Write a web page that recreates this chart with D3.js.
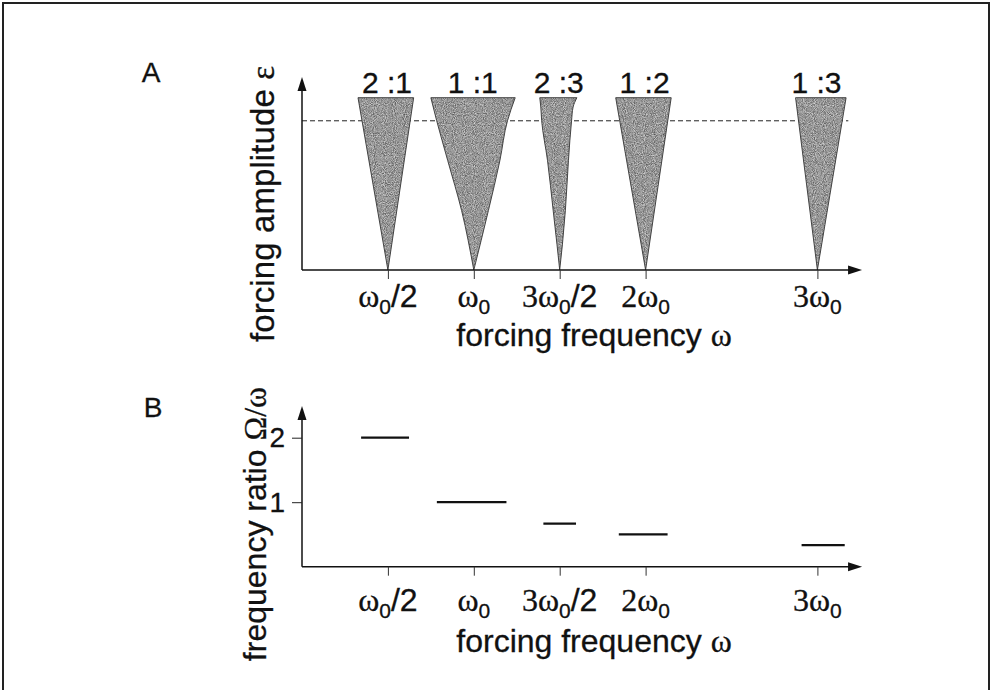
<!DOCTYPE html>
<html>
<head>
<meta charset="utf-8">
<script src="https://cdn.jsdelivr.net/npm/d3@7"></script>
<style>
  body { margin: 0; background: #fff; }
  text { font-family: "Liberation Sans", Arial, sans-serif; fill: #111; stroke: #111; stroke-width: 0.3; }
  .serif { font-family: "Liberation Serif", "DejaVu Serif", serif; }
</style>
</head>
<body>
<svg id="chart" width="993" height="690"></svg>
<script>
// resonance tongues: label, centre frequency (in units of w0)
const ratioLabels = ["2 :1", "1 :1", "2 :3", "1 :2", "1 :3"];
const tongueCenters = [0.5, 1, 1.5, 2, 3];
const tickLabels = ["ω_0/2", "ω_0", "3ω_0/2", "2ω_0", "3ω_0"];

// tongue edges: [amplitude, left offset, right offset]
const tongueEdges = [
  [[0, 0, 0], [1, -0.174, 0.150]],
  [[0, 0, 0], [0.345, -0.071, 0.085], [0.636, -0.152, 0.152], [0.866, -0.216, 0.196], [1, -0.250, 0.241]],
  [[0, 0, 0], [0.15, -0.016, 0.016], [0.345, -0.038, 0.033], [0.636, -0.071, 0.051], [0.866, -0.105, 0.069], [0.946, -0.110, 0.078], [1, -0.116, 0.100]],
  [[0, 0, 0], [1, -0.174, 0.149]],
  [[0, 0, 0], [1, -0.127, 0.167]]
];
const dashedLevel = 0.866;

// panel B: locked frequency ratio plateaus
const freqRatios = [2, 1, 0.667, 0.5, 0.333];
const plateauLeft = [-0.156, -0.215, -0.095, -0.156, -0.092];
const plateauRight = [0.123, 0.190, 0.095, 0.128, 0.159];
const ratioTicks = [1, 2];

const svg = d3.select("#chart");

// frame
svg.append("rect")
  .attr("x", 3).attr("y", 3).attr("width", 986).attr("height", 700)
  .attr("fill", "none").attr("stroke", "#222").attr("stroke-width", 2);

// grain for the shaded tongues
const defs = svg.append("defs");
const f = defs.append("filter").attr("id", "grain")
  .attr("color-interpolation-filters", "sRGB")
  .attr("x", 0).attr("y", 0).attr("width", "100%").attr("height", "100%");
f.append("feTurbulence").attr("type", "fractalNoise").attr("baseFrequency", 1.1)
  .attr("numOctaves", 1).attr("seed", 4).attr("result", "n");
f.append("feColorMatrix").attr("in", "n").attr("type", "matrix")
  .attr("values", "0.8 0 0 0 0.19  0.8 0 0 0 0.19  0.8 0 0 0 0.19  0 0 0 0 1")
  .attr("result", "g");
f.append("feComposite").attr("in", "g").attr("in2", "SourceGraphic").attr("operator", "in");

const x = d3.scaleLinear().domain([0, 3]).range([302, 817.4]);
const xEnd = 3.26;
const yA = d3.scaleLinear().domain([0, 1]).range([270, 97.7]);
const yB = d3.scaleLinear().domain([0, 2]).range([566.7, 437.7]);

function arrowAxes(y0, yTop, xRight) {
  const g = svg.append("g");
  const x0 = x(0), xr = x(xRight);
  g.append("line").attr("x1", x0).attr("y1", y0).attr("x2", xr - 10).attr("y2", y0)
    .attr("stroke", "#111").attr("stroke-width", 1.5);
  g.append("line").attr("x1", x0).attr("y1", y0).attr("x2", x0).attr("y2", yTop + 10)
    .attr("stroke", "#111").attr("stroke-width", 1.5);
  g.append("path").attr("d", `M${xr},${y0} L${xr - 14},${y0 - 4.5} L${xr - 14},${y0 + 4.5} Z`).attr("fill", "#111");
  g.append("path").attr("d", `M${x0},${yTop} L${x0 - 4.5},${yTop + 14} L${x0 + 4.5},${yTop + 14} Z`).attr("fill", "#111");
}

function tickLabel(g, px, py, label) {
  const [pre, post] = label.split("_0");
  const t = g.append("text").attr("x", px).attr("y", py)
    .attr("text-anchor", "middle").attr("font-size", 32);
  t.append("tspan").attr("class", "serif").text(pre);
  t.append("tspan").attr("font-size", 21).attr("dy", 7).text("0");
  if (post) t.append("tspan").attr("dy", -7).text(post);
}

function xTicks(y0, labelY) {
  const g = svg.append("g").attr("transform", `translate(0,${y0})`)
    .call(d3.axisBottom(x).tickValues(tongueCenters).tickSize(9).tickFormat(""));
  g.select(".domain").remove();
  g.selectAll(".tick line").attr("stroke", "#333").attr("stroke-width", 1);
  tongueCenters.forEach((c, i) => tickLabel(svg, x(c), labelY, tickLabels[i]));
}

// ---------- panel A ----------
svg.append("text").attr("x", 151).attr("y", 82).attr("text-anchor", "middle")
  .attr("font-size", 28).text("A");

svg.append("line")
  .attr("x1", x(0)).attr("x2", x(3.18))
  .attr("y1", yA(dashedLevel)).attr("y2", yA(dashedLevel))
  .attr("stroke", "#222").attr("stroke-width", 1).attr("stroke-dasharray", "5,3");

const area = d3.area()
  .y(d => yA(d[0]))
  .curve(d3.curveMonotoneY);

tongueEdges.forEach((pts, i) => {
  const c = tongueCenters[i];
  const a = area.x0(d => x(c + d[1])).x1(d => x(c + d[2]));
  svg.append("path").attr("d", a(pts)).attr("fill", "#8a8a8a").attr("filter", "url(#grain)");
  svg.append("path").attr("d", a(pts)).attr("fill", "none").attr("stroke", "#333").attr("stroke-width", 0.9);
  svg.append("text").attr("x", x(c) - 1).attr("y", yA(1) - 5).attr("text-anchor", "middle")
    .attr("font-size", 30).text(ratioLabels[i]);
});

arrowAxes(yA(0), yA(1.12), xEnd);
xTicks(yA(0), 307);

const tA = svg.append("text").attr("text-anchor", "middle").attr("font-size", 32)
  .attr("x", 594).attr("y", 346);
tA.append("tspan").text("forcing frequency ");
tA.append("tspan").attr("class", "serif").text("ω");

const yTitleA = svg.append("text").attr("text-anchor", "middle").attr("font-size", 33)
  .attr("textLength", 276).attr("lengthAdjust", "spacing")
  .attr("transform", "translate(274,204) rotate(-90)");
yTitleA.append("tspan").text("forcing amplitude ");
yTitleA.append("tspan").attr("class", "serif").text("ε");

// ---------- panel B ----------
svg.append("text").attr("x", 153).attr("y", 417).attr("text-anchor", "middle")
  .attr("font-size", 28).text("B");

arrowAxes(yB(0), yB(2.49), xEnd);
xTicks(yB(0), 611);

const yAx = svg.append("g").attr("transform", `translate(${x(0)},0)`)
  .call(d3.axisLeft(yB).tickValues(ratioTicks).tickSize(10).tickPadding(7).tickFormat(d3.format("d")));
yAx.select(".domain").remove();
yAx.selectAll(".tick line").attr("stroke", "#222").attr("stroke-width", 1);
yAx.selectAll(".tick text").attr("font-size", 28).attr("fill", "#111")
  .attr("font-family", "Liberation Sans, Arial, sans-serif");

freqRatios.forEach((r, i) => {
  const c = tongueCenters[i];
  svg.append("line")
    .attr("x1", x(c + plateauLeft[i])).attr("x2", x(c + plateauRight[i]))
    .attr("y1", yB(r)).attr("y2", yB(r))
    .attr("stroke", "#111").attr("stroke-width", 2.2);
});

const tB = svg.append("text").attr("text-anchor", "middle").attr("font-size", 32)
  .attr("x", 594).attr("y", 652);
tB.append("tspan").text("forcing frequency ");
tB.append("tspan").attr("class", "serif").text("ω");

const yTitleB = svg.append("text").attr("text-anchor", "middle").attr("font-size", 32)
  .attr("transform", "translate(266,524) rotate(-90)");
yTitleB.append("tspan").text("frequency ratio ");
yTitleB.append("tspan").attr("class", "serif").text("Ω/ω");
</script>
</body>
</html>
